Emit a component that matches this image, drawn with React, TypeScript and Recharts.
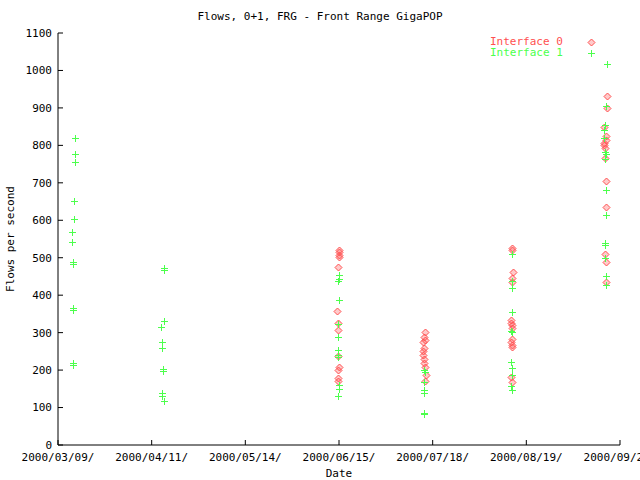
import React from 'react';
import { ScatterChart, Scatter, XAxis, YAxis, Legend } from 'recharts';

// x values are days since 2000/03/09
const dayTicks = [0, 32.67, 65.33, 98, 130.67, 163.33, 196];
const dateLabels = [
  '2000/03/09/',
  '2000/04/11/',
  '2000/05/14/',
  '2000/06/15/',
  '2000/07/18/',
  '2000/08/19/',
  '2000/09/21/',
];
const flowTicks = [0, 100, 200, 300, 400, 500, 600, 700, 800, 900, 1000, 1100];

// Interface 0
const if0Days = [
  98.0, 98.1, 97.9, 98.0, 97.8, 97.4, 97.7, 97.8, 97.6, 97.9, 97.8, 97.5, 97.6,
  128.0, 127.6, 127.9, 127.4, 127.8, 127.4, 127.2, 127.5, 127.6, 127.9, 128.2, 128.0,
  158.4, 158.5, 158.6, 158.5, 158.4, 157.9, 158.0, 158.2, 158.3, 158.3, 158.1, 158.4, 158.5, 158.0, 158.2,
  191.4, 191.3, 190.3, 191.0, 191.0, 190.3, 190.5, 190.6, 190.9, 191.0, 191.0, 190.8, 191.2, 191.1,
];
const if0Flows = [
  520, 514, 507, 501, 474, 357, 325, 307, 238, 207, 200, 178, 171,
  301, 288, 280, 275, 259, 250, 240, 230, 220, 208, 186, 170,
  525, 520, 463, 445, 436, 334, 327, 320, 312, 282, 275, 268, 262, 182, 169,
  932, 899, 850, 825, 814, 805, 800, 792, 765, 705, 635, 510, 488, 434,
];

// Interface 1
const if1Days = [
  5.9, 5.9, 5.9, 5.5, 5.5, 5.0, 5.0, 5.3, 5.4, 5.2, 5.3, 5.2, 5.3,
  37.0, 37.0, 37.0, 36.0, 36.4, 36.4, 36.6, 36.7, 36.4, 36.4, 36.8,
  98.0, 97.9, 97.8, 98.0, 97.7, 97.5, 97.6, 97.6, 97.7, 98.0, 98.0, 97.8,
  127.5, 127.9, 127.6, 127.6, 127.8, 127.6, 127.7,
  158.5, 158.4, 158.5, 158.5, 158.1, 158.3, 158.0, 158.3, 158.4, 158.0, 158.2,
  191.4, 191.2, 190.9, 190.5, 190.3, 190.7, 191.0, 190.8, 191.0, 191.0, 190.8, 190.9, 190.8, 191.0, 191.0,
];
const if1Flows = [
  819, 776, 756, 651, 603, 568, 541, 489, 482, 367, 360, 218, 214,
  472, 466, 330, 315, 276, 260, 204, 198, 138, 132, 118,
  454, 442, 438, 386, 323, 288, 254, 240, 234, 160, 149, 131,
  200, 194, 169, 147, 140, 86, 83,
  509, 438, 418, 354, 305, 301, 222, 205, 187, 158, 147,
  1016, 905, 854, 841, 819, 783, 777, 763, 680, 613, 539, 534, 500, 451, 428,
];

const RED = '#ff5050';
const GREEN = '#4cff4c';
const FONT = '"DejaVu Sans Mono", monospace';
const FS = 11;

// plot box edges (from the chart margins / axis sizes below)
const PLOT_TOP = 33;
const PLOT_RIGHT = 620;
const TICK = 5;

const if0Data = if0Days.map((d, i) => ({ day: d, flows: if0Flows[i] }));
const if1Data = if1Days.map((d, i) => ({ day: d, flows: if1Flows[i] }));

const diamondPath = (cx: number, cy: number) =>
  `M${cx},${cy - 3.5}L${cx + 3.5},${cy}L${cx},${cy + 3.5}L${cx - 3.5},${cy}Z`;
const plusPath = (cx: number, cy: number) =>
  `M${cx - 3.5},${cy}H${cx + 3.5}M${cx},${cy - 3.5}V${cy + 3.5}`;

const DiamondDot = (props: any) => {
  const cx = Math.round(props.cx) + 0.5;
  const cy = Math.round(props.cy) + 0.5;
  return <path d={diamondPath(cx, cy)} fill={RED} fillOpacity={0.3} stroke={RED} strokeWidth={1} />;
};

const PlusDot = (props: any) => {
  const cx = Math.round(props.cx) + 0.5;
  const cy = Math.round(props.cy) + 0.5;
  return <path d={plusPath(cx, cy)} stroke={GREEN} strokeWidth={1} shapeRendering="crispEdges" fill="none" />;
};

const renderKey = (props: any) => {
  const items = props.payload || [];
  return (
    <div style={{ fontFamily: FONT, fontSize: FS, lineHeight: '11px' }}>
      {items.map((item: any) => (
        <div key={item.value} style={{ display: 'flex', alignItems: 'center', height: 11 }}>
          <span style={{ color: item.color, width: 96, whiteSpace: 'pre', lineHeight: '11px' }}>
            {item.value}
          </span>
          <svg width={10} height={10}>
            {item.value === 'Interface 0' ? (
              <path d={diamondPath(5.5, 5.5)} fill={RED} fillOpacity={0.3} stroke={RED} strokeWidth={1} />
            ) : (
              <path d={plusPath(5.5, 5.5)} stroke={GREEN} strokeWidth={1} shapeRendering="crispEdges" />
            )}
          </svg>
        </div>
      ))}
    </div>
  );
};

const TopTick = (p: any) => (
  <line x1={p.x} x2={p.x} y1={PLOT_TOP} y2={PLOT_TOP + TICK} stroke="#000" shapeRendering="crispEdges" />
);
const RightTick = (p: any) => (
  <line x1={PLOT_RIGHT - TICK} x2={PLOT_RIGHT} y1={p.y} y2={p.y} stroke="#000" shapeRendering="crispEdges" />
);

const tickStyle = { fill: '#000', fontFamily: FONT, fontSize: FS };

export default function App() {
  return (
    <div
      style={{
        position: 'absolute',
        left: 0,
        top: 0,
        width: 640,
        height: 480,
        overflow: 'hidden',
        background: '#fff',
      }}
    >
      <div
        style={{
          position: 'absolute',
          top: 10,
          width: 640,
          textAlign: 'center',
          fontFamily: FONT,
          fontSize: FS,
          color: '#000',
          zIndex: 2,
        }}
      >
        Flows, 0+1, FRG - Front Range GigaPOP
      </div>
      <ScatterChart width={640} height={480} margin={{ top: PLOT_TOP, right: 640 - PLOT_RIGHT, left: 0, bottom: 0 }}>
        <XAxis
          dataKey="day"
          type="number"
          domain={[0, 196]}
          ticks={dayTicks}
          tickFormatter={(_v: number, i: number) => dateLabels[i]}
          height={35}
          stroke="#000"
          tick={tickStyle}
          tickSize={-TICK}
          tickMargin={13}
          interval={0}
          label={{
            content: () => (
              <text x={339} y={477} textAnchor="middle" fontFamily={FONT} fontSize={FS} fill="#000">
                Date
              </text>
            ),
          }}
        />
        <XAxis
          xAxisId="top"
          orientation="top"
          dataKey="day"
          type="number"
          domain={[0, 196]}
          ticks={dayTicks}
          tick={TopTick}
          tickLine={false}
          height={0}
          stroke="#000"
          interval={0}
        />
        <YAxis
          dataKey="flows"
          type="number"
          domain={[0, 1100]}
          ticks={flowTicks}
          width={58}
          stroke="#000"
          tick={tickStyle}
          tickSize={-TICK}
          tickMargin={11}
          interval={0}
          label={{
            content: () => (
              <text
                x={14}
                y={239}
                transform="rotate(-90 14 239)"
                textAnchor="middle"
                fontFamily={FONT}
                fontSize={FS}
                fill="#000"
              >
                Flows per second
              </text>
            ),
          }}
        />
        <YAxis
          yAxisId="right"
          orientation="right"
          dataKey="flows"
          type="number"
          domain={[0, 1100]}
          ticks={flowTicks}
          tick={RightTick}
          tickLine={false}
          width={0}
          stroke="#000"
          interval={0}
        />
        <Legend
          layout="vertical"
          align="center"
          verticalAlign="middle"
          content={renderKey}
          wrapperStyle={{ top: 36, left: 490, width: 110 }}
        />
        <Scatter
          name="Interface 0"
          data={if0Data}
          fill={RED}
          shape={DiamondDot}
          isAnimationActive={false}
        />
        <Scatter
          name="Interface 1"
          data={if1Data}
          fill={GREEN}
          shape={PlusDot}
          isAnimationActive={false}
        />
      </ScatterChart>
    </div>
  );
}
